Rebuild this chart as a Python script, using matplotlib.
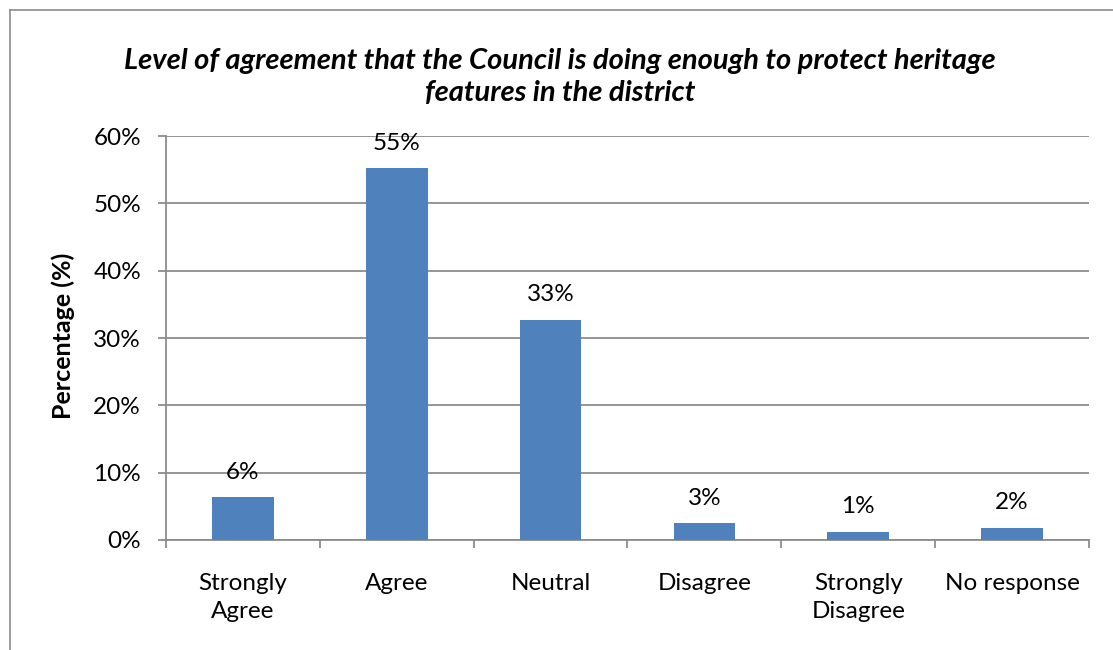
import matplotlib
matplotlib.use("Agg")
import matplotlib.pyplot as plt
from matplotlib.lines import Line2D
from matplotlib.ticker import FuncFormatter, FixedLocator

categories = ["Strongly\nAgree", "Agree", "Neutral", "Disagree", "Strongly\nDisagree", "No response"]
values = [6.35, 55.2, 32.7, 2.5, 1.2, 1.85]
labels = ["6%", "55%", "33%", "3%", "1%", "2%"]
yticks = [0, 10, 20, 30, 40, 50, 60]

plt.rcParams['font.family'] = ['Lato', 'DejaVu Sans']

W, H = 1113, 650
FS = 17.5
fig = plt.figure(figsize=(W / 100, H / 100), dpi=100)
ax = fig.add_axes([166 / W, 1 - 540 / H, (1089 - 166) / W, (540 - 136) / H])

x = list(range(len(categories)))
ax.bar(x, values, width=0.4, color="#4F81BD", zorder=3)
for xi, v, lab in zip(x, values, labels):
    ax.annotate(lab, (xi, v), xytext=(0, 18), textcoords="offset points",
                ha="center", va="center", fontsize=FS, color="black")

ax.set_xlim(-0.5, len(categories) - 0.5)
ax.set_ylim(0, 60)
ax.set_yticks(yticks)
ax.yaxis.set_major_formatter(FuncFormatter(lambda v, p: f"{int(v)}%"))
ax.yaxis.grid(True, color="#8C8C8C", linewidth=1.3, zorder=0)
ax.set_axisbelow(True)

ax.set_xticks(x)
ax.set_xticklabels(categories, fontsize=FS, linespacing=1.4)
ax.xaxis.set_minor_locator(FixedLocator([i - 0.5 for i in range(len(categories) + 1)]))
ax.tick_params(axis="x", which="major", length=0, pad=24)
ax.tick_params(axis="x", which="minor", length=6, width=1.3, color="#8C8C8C", direction="out")
ax.tick_params(axis="y", which="major", length=6, width=1.3, color="#8C8C8C",
               direction="out", labelsize=FS, pad=12)

for s in ["top", "right"]:
    ax.spines[s].set_visible(False)
for s in ["left", "bottom"]:
    ax.spines[s].set_color("#8C8C8C")
    ax.spines[s].set_linewidth(1.3)

fig.text(63 / W, 1 - 336 / H, "Percentage (%)", rotation=90, ha="center", va="center",
         fontsize=18, fontweight="bold")

fig.text(0.503, 1 - 77 / H,
         "Level of agreement that the Council is doing enough to protect heritage\nfeatures in the district",
         ha="center", va="center", fontsize=21, fontweight="bold", style="italic",
         linespacing=1.3)

# outer chart border
fig.add_artist(Line2D([10 / W, 10 / W], [0, 1 - 10 / H], transform=fig.transFigure,
                      color="#8C8C8C", linewidth=1.2))
fig.add_artist(Line2D([10 / W, 1], [1 - 10 / H, 1 - 10 / H], transform=fig.transFigure,
                      color="#8C8C8C", linewidth=1.2))

fig.savefig("out.png", dpi=100, facecolor="white")
